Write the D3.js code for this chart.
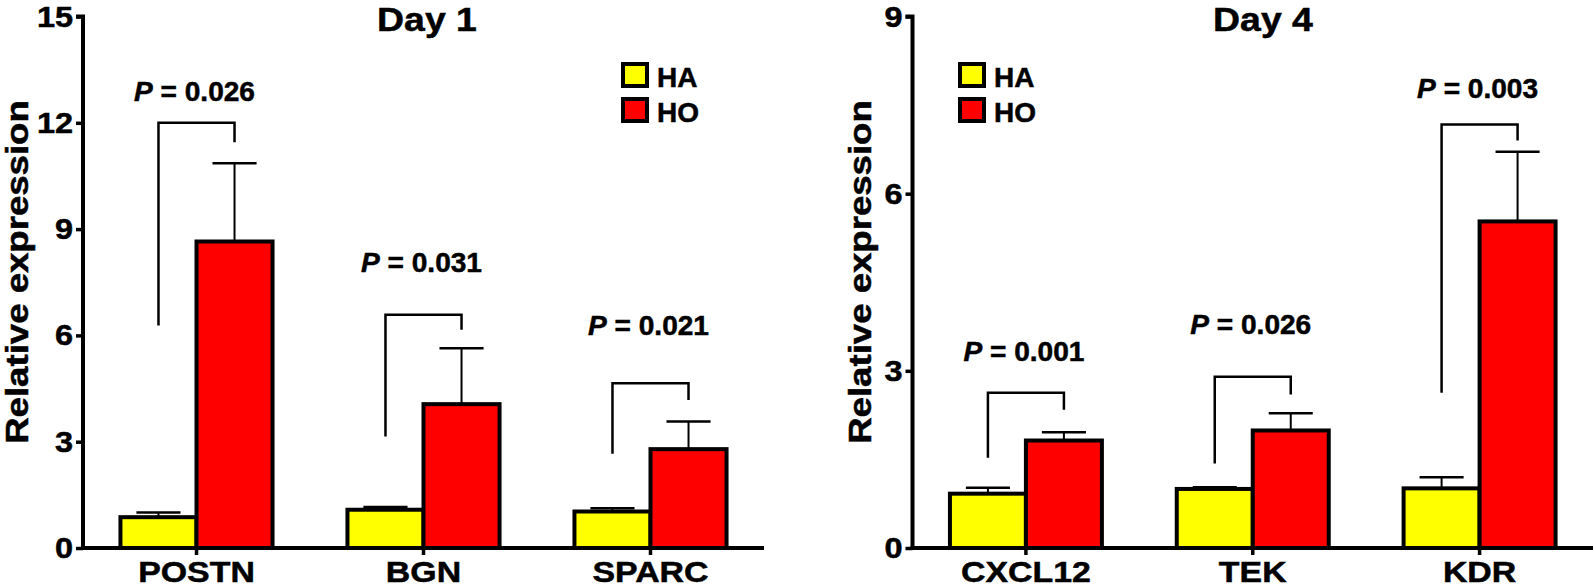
<!DOCTYPE html>
<html>
<head>
<meta charset="utf-8">
<script src="https://cdn.jsdelivr.net/npm/d3@7"></script>
<style>
  html, body { margin: 0; padding: 0; background: #fff; }
  svg text { font-family: "Liberation Sans", Arial, Helvetica, sans-serif; font-weight: bold; fill: #000; stroke: #000; stroke-width: 0.5px; }
</style>
</head>
<body>
<svg id="chart" width="1594" height="588"></svg>
<script>
// ---------- Data ----------
const seriesNames = ["HA", "HO"];
const seriesColors = ["#ffff00", "#ff0000"];

const day1Title = "Day 1";
const day1Genes = ["POSTN", "BGN", "SPARC"];
const day1HA = [0.87, 1.08, 1.03];
const day1HAErr = [0.13, 0.08, 0.09];
const day1HO = [8.65, 4.06, 2.79];
const day1HOErr = [2.21, 1.58, 0.78];
const day1P = ["0.026", "0.031", "0.021"];
const day1PLabelY = [12.62, 7.8, 6.0];
const day1BracketTop = [12.0, 6.58, 4.65];
const day1BracketLegHA = [6.28, 3.15, 2.66];
const day1BracketLegHO = [11.45, 6.16, 4.18];
const day1Max = 15;
const day1Ticks = [0, 3, 6, 9, 12, 15];

const day4Title = "Day 4";
const day4Genes = ["CXCL12", "TEK", "KDR"];
const day4HA = [0.92, 1.0, 1.01];
const day4HAErr = [0.10, 0.03, 0.19];
const day4HO = [1.82, 1.99, 5.53];
const day4HOErr = [0.14, 0.29, 1.18];
const day4P = ["0.001", "0.026", "0.003"];
const day4PLabelY = [3.17, 3.62, 7.62];
const day4BracketTop = [2.63, 2.90, 7.17];
const day4BracketLegHA = [1.53, 1.43, 2.63];
const day4BracketLegHO = [2.34, 2.60, 6.90];
const day4Max = 9;
const day4Ticks = [0, 3, 6, 9];

const yAxisTitle = "Relative expression";

// ---------- Drawing ----------
const svg = d3.select("#chart");

function stretchedText(g, x, y, str, size, anchor, sx, rot) {
  return g.append("text")
    .attr("transform", `translate(${x},${y})` + (rot ? ` rotate(${rot})` : "") + ` scale(${sx},1)`)
    .attr("text-anchor", anchor)
    .style("font-size", size + "px")
    .text(str);
}

function drawPanel(cfg) {
  const g = svg.append("g");
  const y = d3.scaleLinear().domain([0, cfg.max]).range([548, 16.5]);
  const x = d3.scaleBand().domain(cfg.genes).range([cfg.x0, cfg.x1])
    .paddingInner(0.33).paddingOuter(0.165);
  const xs = d3.scaleBand().domain(seriesNames).range([0, x.bandwidth()]);
  const bw = xs.bandwidth();

  const series = [
    { name: "HA", vals: cfg.ha, errs: cfg.haErr, color: seriesColors[0] },
    { name: "HO", vals: cfg.ho, errs: cfg.hoErr, color: seriesColors[1] }
  ];

  // error bars (drawn first, below bars)
  series.forEach(s => {
    cfg.genes.forEach((gene, i) => {
      const cx = x(gene) + xs(s.name) + bw / 2;
      const top = y(s.vals[i] + s.errs[i]);
      g.append("line").attr("x1", cx).attr("x2", cx)
        .attr("y1", y(s.vals[i])).attr("y2", top)
        .attr("stroke", "#000").attr("stroke-width", 2);
      g.append("line").attr("x1", cx - bw * 0.29).attr("x2", cx + bw * 0.29)
        .attr("y1", top).attr("y2", top)
        .attr("stroke", "#000").attr("stroke-width", 2.5);
    });
  });

  // bars
  series.forEach(s => {
    g.selectAll(null).data(cfg.genes).enter().append("rect")
      .attr("x", d => x(d) + xs(s.name))
      .attr("width", bw)
      .attr("y", (d, i) => y(s.vals[i]))
      .attr("height", (d, i) => y(0) - y(s.vals[i]))
      .attr("fill", s.color)
      .attr("stroke", "#000")
      .attr("stroke-width", 4);
  });

  // brackets and P labels
  cfg.genes.forEach((gene, i) => {
    const xa = x(gene) + xs("HA") + bw / 2;
    const xb = x(gene) + xs("HO") + bw / 2;
    const path = d3.path();
    path.moveTo(xa, y(cfg.legHA[i]));
    path.lineTo(xa, y(cfg.bracket[i]));
    path.lineTo(xb, y(cfg.bracket[i]));
    path.lineTo(xb, y(cfg.legHO[i]));
    g.append("path").attr("d", path.toString())
      .attr("fill", "none").attr("stroke", "#000").attr("stroke-width", 2.5);
    const cx = x(gene) + x.bandwidth() / 2;
    const t = g.append("text")
      .attr("transform", `translate(${cx - 2},${y(cfg.pY[i])}) scale(1.04,1)`)
      .attr("text-anchor", "middle")
      .style("font-size", "27px");
    t.append("tspan").style("font-style", "italic").text("P");
    t.append("tspan").text(" = " + cfg.p[i]);
  });

  // y axis
  const yAxis = d3.axisLeft(y).tickValues(cfg.ticks).tickSize(7).tickPadding(4).tickFormat(d3.format("d"));
  const ya = g.append("g").attr("transform", `translate(${cfg.x0},0)`).call(yAxis);
  ya.select(".domain").attr("stroke", "#000").attr("stroke-width", 4)
    .attr("d", `M-7,${y(cfg.max)}H0V${y(0)}`);
  ya.selectAll(".tick line").attr("stroke", "#000").attr("stroke-width", 3.5);
  ya.selectAll(".tick text").remove();
  cfg.ticks.forEach(v => {
    stretchedText(g, cfg.x0 - 10, y(v) + 10, String(v), 29, "end", 1.12);
  });

  // x axis
  const xAxis = d3.axisBottom(x).tickSize(7).tickPadding(0);
  const xa = g.append("g").attr("transform", `translate(0,${y(0)})`).call(xAxis);
  xa.select(".domain").attr("stroke", "#000").attr("stroke-width", 4)
    .attr("d", `M${cfg.x0 - 2},0H${cfg.x1}`);
  xa.selectAll(".tick line").attr("stroke", "#000").attr("stroke-width", 3.5);
  xa.selectAll(".tick text").remove();
  cfg.genes.forEach(gene => {
    stretchedText(g, x(gene) + x.bandwidth() / 2, 581.5, gene, 30, "middle", 1.13);
  });

  // y axis title
  stretchedText(g, cfg.yTitleX, 272, yAxisTitle, 30.5, "middle", 1.2, -90);

  // title
  stretchedText(g, cfg.titleX, 31, cfg.title, 34, "middle", 1.1);

  // legend
  seriesNames.forEach((name, i) => {
    const ly = cfg.legY + i * 35;
    g.append("rect").attr("x", cfg.legX + 2).attr("y", ly + 2)
      .attr("width", 24).attr("height", 22)
      .attr("fill", seriesColors[i]).attr("stroke", "#000").attr("stroke-width", 4);
    stretchedText(g, cfg.legX + 36, ly + 24.5, name, 28, "start", 1.0);
  });
}

drawPanel({
  title: day1Title, genes: day1Genes, ha: day1HA, haErr: day1HAErr, ho: day1HO, hoErr: day1HOErr,
  p: day1P, pY: day1PLabelY, bracket: day1BracketTop, legHA: day1BracketLegHA, legHO: day1BracketLegHO,
  max: day1Max, ticks: day1Ticks, x0: 83, x1: 764, yTitleX: 28, titleX: 427, legX: 621, legY: 62
});

drawPanel({
  title: day4Title, genes: day4Genes, ha: day4HA, haErr: day4HAErr, ho: day4HO, hoErr: day4HOErr,
  p: day4P, pY: day4PLabelY, bracket: day4BracketTop, legHA: day4BracketLegHA, legHO: day4BracketLegHO,
  max: day4Max, ticks: day4Ticks, x0: 912.5, x1: 1593, yTitleX: 871, titleX: 1263, legX: 958, legY: 62
});
</script>
</body>
</html>
